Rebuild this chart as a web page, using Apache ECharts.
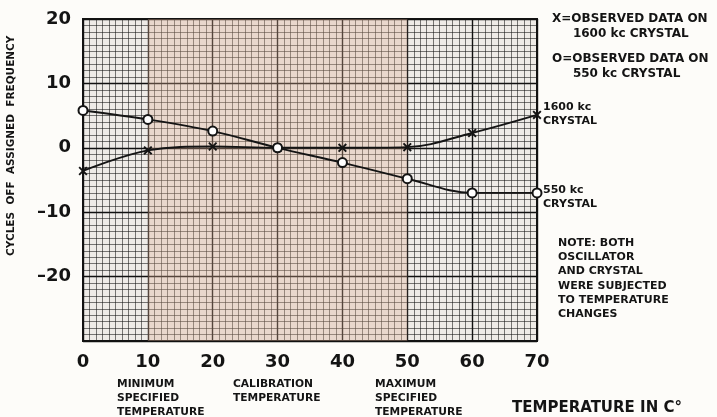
<!DOCTYPE html>
<html>
<head>
<meta charset="utf-8">
<script src="https://cdn.jsdelivr.net/npm/echarts@6/dist/echarts.min.js"></script>
<style>
  html, body { margin: 0; padding: 0; background: #fdfcf9; }
  #chart { width: 717px; height: 417px; }
</style>
</head>
<body>
<div id="chart"></div>
<script>
  // temperature (C) and cycles off assigned frequency
  const temps = [0, 10, 20, 30, 40, 50, 60, 70]
  const kc1600 = [-3.6, -0.4, 0.2, 0, 0, 0.1, 2.3, 5.1]
  const kc550 = [5.8, 4.4, 2.6, 0, -2.3, -4.8, -7.0, -7.0]
  const shadeRange = [10, 50]

  const font = 'DejaVu Sans'
  const ink = '#141414'

  const xMark = 'path://M0,1.5 L1.5,0 L5,3.5 L8.5,0 L10,1.5 L6.5,5 L10,8.5 L8.5,10 L5,6.5 L1.5,10 L0,8.5 L3.5,5 Z'

  function text(x, y, str, size, lh) {
    return {
      type: 'text', left: x, top: y,
      style: { text: str, font: 'bold ' + (size || 11) + 'px "' + font + '"', fill: ink, lineHeight: lh || 14.2 }
    }
  }

  const option = {
    backgroundColor: '#fdfcf9',
    animation: false,
    grid: {
      left: 83, right: 180, top: 19, bottom: 76,
      show: true, backgroundColor: '#eeebe7', borderColor: ink, borderWidth: 2
    },
    xAxis: {
      type: 'value', min: 0, max: 70, interval: 10,
      axisLine: { show: false },
      axisTick: { show: false },
      axisLabel: { color: ink, fontFamily: font, fontWeight: 'bold', fontSize: 18, margin: 12 },
      splitLine: { lineStyle: { color: '#111', width: 1.4 } },
      minorTick: { show: false, splitNumber: 10 },
      minorSplitLine: { show: true, lineStyle: { color: 'rgba(20,20,20,0.7)', width: 0.8 } }
    },
    yAxis: {
      type: 'value', min: -30, max: 20, interval: 10,
      axisLine: { show: false },
      axisTick: { show: false },
      axisLabel: {
        color: ink, fontFamily: font, fontWeight: 'bold', fontSize: 18, margin: 12,
        formatter: v => v === -30 ? '' : (v < 0 ? '–' + Math.abs(v) : String(v))
      },
      splitLine: { lineStyle: { color: '#111', width: 1.4 } },
      minorTick: { show: false, splitNumber: 10 },
      minorSplitLine: { show: true, lineStyle: { color: 'rgba(20,20,20,0.7)', width: 0.8 } }
    },
    series: [
      {
        name: '1600 kc CRYSTAL',
        type: 'line',
        data: temps.map((t, i) => [t, kc1600[i]]),
        smooth: 0.35,
        symbol: xMark,
        symbolSize: 9,
        itemStyle: { color: ink },
        lineStyle: { color: ink, width: 1.9 },
        z: 5,
        markArea: {
          silent: true,
          itemStyle: { color: 'rgba(225,175,150,0.33)' },
          data: [[{ xAxis: shadeRange[0] }, { xAxis: shadeRange[1] }]]
        }
      },
      {
        name: '550 kc CRYSTAL',
        type: 'line',
        data: temps.map((t, i) => [t, kc550[i]]),
        smooth: 0.35,
        symbol: 'emptyCircle',
        symbolSize: 9,
        itemStyle: { color: ink, borderColor: ink, borderWidth: 2.2 },
        lineStyle: { color: ink, width: 1.9 },
        z: 5
      }
    ],
    graphic: [
      {
        type: 'text', x: 6, y: 256, rotation: Math.PI / 2,
        style: {
          text: 'CYCLES  OFF  ASSIGNED  FREQUENCY',
          font: 'bold 10.5px "' + font + '"', fill: ink
        }
      },
      text(552, 11, 'X=OBSERVED DATA ON\n     1600 kc CRYSTAL', 12, 15),
      text(552, 51, 'O=OBSERVED DATA ON\n     550 kc CRYSTAL', 12, 15),
      text(543, 100, '1600 kc\nCRYSTAL'),
      text(543, 183, '550 kc\nCRYSTAL'),
      text(558, 236, 'NOTE: BOTH\nOSCILLATOR\nAND CRYSTAL\nWERE SUBJECTED\nTO TEMPERATURE\nCHANGES'),
      text(117, 377, 'MINIMUM\nSPECIFIED\nTEMPERATURE', 10.7),
      text(233, 377, 'CALIBRATION\nTEMPERATURE', 10.7),
      text(375, 377, 'MAXIMUM\nSPECIFIED\nTEMPERATURE', 10.7),
      text(512, 401, 'TEMPERATURE IN C°', 15)
    ]
  }

  const myChart = echarts.init(document.getElementById('chart'))
  myChart.setOption(option, true)
</script>
</body>
</html>
